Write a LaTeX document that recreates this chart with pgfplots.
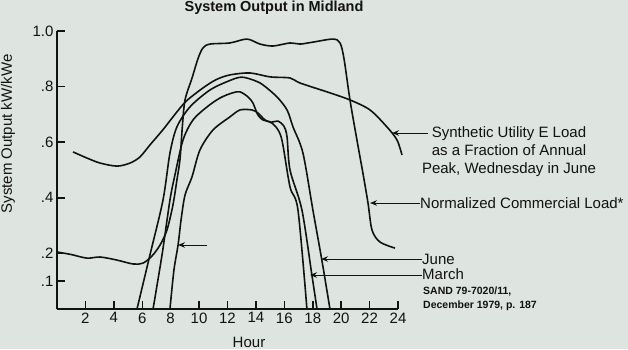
\documentclass[border=0pt]{standalone}
\usepackage{fontspec}
\setmainfont{Liberation Sans}
\usepackage{pgfplots}
\pgfplotsset{compat=1.18}
\usetikzlibrary{arrows.meta}
\definecolor{bg}{RGB}{222,228,224}
\definecolor{ink}{RGB}{18,18,18}
\newcommand{\mf}{\fontsize{15}{18}\selectfont}
\newcommand{\smf}{\fontsize{10.5}{13}\selectfont\bfseries}

\pgfplotstableread{
x y
1.13 0.565
2.11 0.543
3.03 0.525
4.22 0.514
5.14 0.525
5.84 0.547
6.54 0.590
7.46 0.645
8.30 0.700
9.10 0.748
10.27 0.795
11.20 0.825
12.17 0.842
13.58 0.849
14.99 0.835
16.40 0.831
17.10 0.813
19.00 0.781
20.62 0.752
22.03 0.716
23.22 0.655
23.93 0.608
24.28 0.554
}\synth

\pgfplotstableread{
x y
0.00 0.205
1.00 0.196
2.11 0.183
3.03 0.187
4.22 0.176
5.35 0.162
6.05 0.165
6.69 0.191
7.25 0.230
7.74 0.284
8.16 0.374
8.44 0.464
8.66 0.540
8.82 0.655
9.01 0.752
9.50 0.830
9.92 0.900
10.27 0.939
10.77 0.953
12.17 0.957
13.37 0.971
14.29 0.953
15.20 0.946
16.40 0.957
17.10 0.953
18.02 0.960
19.42 0.971
19.92 0.957
20.20 0.900
20.62 0.752
21.11 0.608
21.53 0.489
21.89 0.381
22.17 0.284
22.73 0.241
23.79 0.219
}\comm

\pgfplotstableread{
x y
5.63 0.000
6.54 0.194
7.46 0.392
7.95 0.561
8.44 0.655
9.36 0.727
10.77 0.788
12.17 0.822
13.00 0.834
13.90 0.822
14.50 0.806
15.48 0.763
16.19 0.716
16.61 0.655
17.31 0.561
18.01 0.356
18.65 0.173
19.21 0.000
}\june

\pgfplotstableread{
x y
6.76 0.000
7.39 0.194
7.95 0.392
8.30 0.482
8.87 0.608
9.57 0.680
10.56 0.727
11.47 0.759
12.32 0.777
12.88 0.781
13.44 0.763
13.79 0.741
14.14 0.698
14.50 0.680
14.98 0.673
15.41 0.655
15.83 0.608
16.40 0.439
16.96 0.356
17.59 0.000
}\third

\pgfplotstableread{
x y
7.95 0.000
8.23 0.140
8.52 0.230
8.73 0.320
9.01 0.410
9.50 0.475
10.06 0.572
10.98 0.644
12.17 0.691
12.88 0.716
13.72 0.716
14.14 0.705
14.64 0.680
15.10 0.672
15.55 0.676
15.97 0.658
16.19 0.619
16.40 0.500
17.24 0.356
17.94 0.122
18.30 0.000
}\march

\begin{document}
\begin{tikzpicture}
\fill[bg] (-57pt,-40pt) rectangle (571pt,309pt);
\begin{axis}[
  anchor=origin, at={(0pt,0pt)},
  scale only axis, width=341pt, height=278pt,
  xmin=0, xmax=24, ymin=0, ymax=1,
  axis x line=bottom, axis y line=left,
  axis line style={-, line width=1.5pt, draw=ink},
  clip=false,
  xtick={2,4,...,24}, ytick={0.1,0.2,0.4,0.6,0.8,1.0},
  yticklabels={.1,.2,.4,.6,.8,1.0},
  xtick align=inside, ytick align=inside,
  major tick length=8pt,
  every major tick/.append style={line width=1.5pt, draw=ink, solid},
  xmajorgrids, ymajorgrids,
  major grid style={line width=1.5pt, draw=ink, dash pattern=on 8pt off 1000pt},
  ticklabel style={font=\mf, text=ink},
  /pgf/number format/assume math mode=true,
  curve/.style={draw=ink, line width=1.6pt, smooth, tension=0.5, mark=none},
]
\addplot[curve] table {\synth};
\addplot[curve] table {\comm};
\addplot[curve] table {\june};
\addplot[curve] table {\third};
\addplot[curve] table {\march};
\end{axis}
\begin{scope}[x=1pt,y=1pt]
\node[font=\fontsize{14.5}{17}\selectfont\bfseries, text=ink, anchor=base] at (217,297.5) {System Output in Midland};
\node[font=\mf, text=ink, rotate=90] at (-49,175) {System Output kW/kWe};
\node[font=\mf, text=ink, anchor=base] at (192,-38) {Hour};
\tikzset{arr/.style={-{Stealth[length=7pt,width=5.5pt]}, line width=1pt, draw=ink}}
\draw[arr] (371,176) -- (335,176);
\draw[arr] (363,106) -- (313,106);
\draw[arr] (365,50) -- (264,50);
\draw[arr] (365,34) -- (253,34);
\draw[arr] (150,64) -- (121,64);
\node[font=\mf, text=ink, anchor=base] at (452,171.5) {Synthetic Utility E Load};
\node[font=\mf, text=ink, anchor=base] at (452,154) {as a Fraction of Annual};
\node[font=\mf, text=ink, anchor=base] at (452,136) {Peak, Wednesday in June};
\node[font=\mf, text=ink, anchor=base west, inner sep=0pt] at (363,101) {Normalized Commercial Load*};
\node[font=\mf, text=ink, anchor=base west, inner sep=0pt] at (365,45) {June};
\node[font=\mf, text=ink, anchor=base west, inner sep=0pt] at (365,29.5) {March};
\node[font=\smf, text=ink, anchor=base west, inner sep=0pt] at (366,15) {SAND 79-7020/11,};
\node[font=\smf, text=ink, anchor=base west, inner sep=0pt] at (366,1) {December 1979, p. 187};
\end{scope}
\pgfresetboundingbox
\useasboundingbox (-57pt,-40pt) rectangle (571pt,309pt);
\end{tikzpicture}
\end{document}
